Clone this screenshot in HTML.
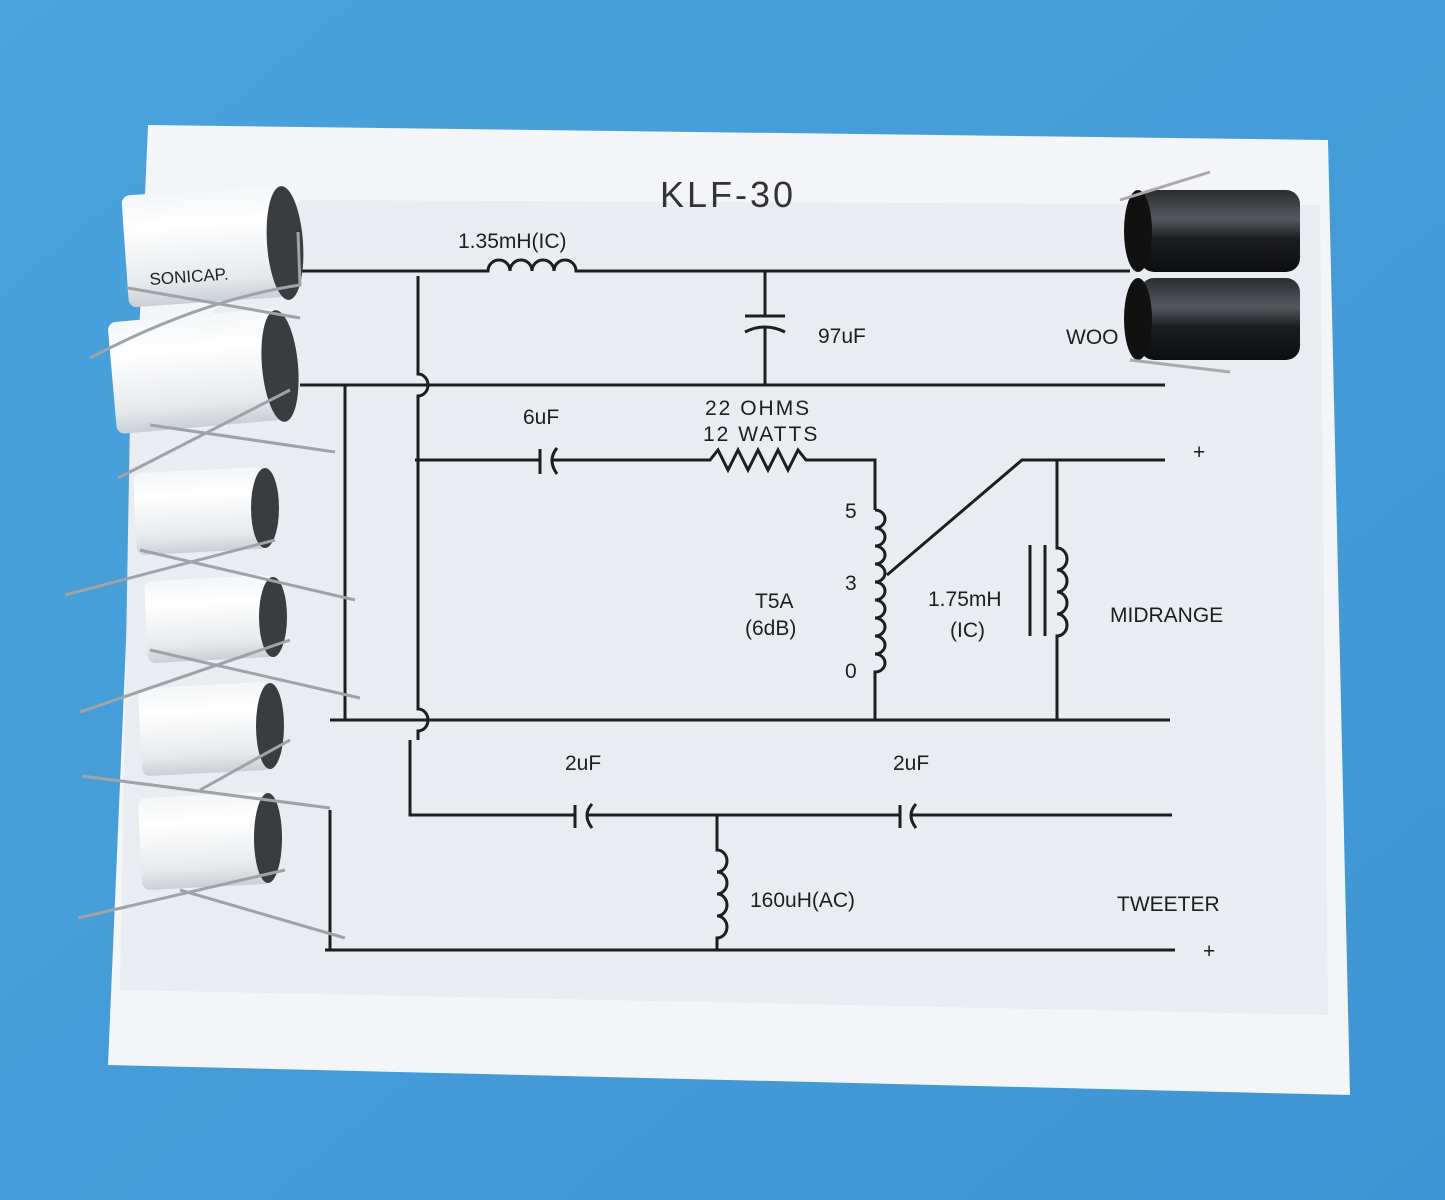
<!DOCTYPE html>
<html><head><meta charset="utf-8"><style>
html,body{margin:0;padding:0;width:1445px;height:1200px;overflow:hidden;background:#4a9fd9}
svg{display:block}
</style></head><body>
<svg width="1445" height="1200" viewBox="0 0 1445 1200" xmlns="http://www.w3.org/2000/svg">
<defs>
<linearGradient id="bg" x1="0" y1="0" x2="1" y2="1"><stop offset="0" stop-color="#4aa3dc"/><stop offset="1" stop-color="#3f95d3"/></linearGradient>
<linearGradient id="cyl" x1="0" y1="0" x2="0" y2="1"><stop offset="0" stop-color="#f4f6f8"/><stop offset="0.3" stop-color="#ffffff"/><stop offset="0.8" stop-color="#e6e9ec"/><stop offset="1" stop-color="#c9cfd4"/></linearGradient>
<linearGradient id="blk" x1="0" y1="0" x2="0" y2="1"><stop offset="0" stop-color="#2a2c30"/><stop offset="0.35" stop-color="#55595e"/><stop offset="0.6" stop-color="#1b1c1f"/><stop offset="1" stop-color="#0d0e10"/></linearGradient>
</defs>
<rect width="1445" height="1200" fill="url(#bg)"/>
<polygon points="148,125 1328,140 1350,1095 108,1065" fill="#f3f5f8"/>
<polygon points="300,200 1320,205 1328,1015 120,990 130,420" fill="#e9ecf1"/>
<text x="660" y="207" font-family="Liberation Sans,sans-serif" font-size="36" fill="#333" letter-spacing="3">KLF-30</text>
<g stroke="#1e1e1e" stroke-width="3" fill="none">
<!-- top wire -->
<path d="M300 271 H488 a11 11 0 0 1 22 0 a11 11 0 0 1 22 0 a11 11 0 0 1 22 0 a11 11 0 0 1 22 0 H1130"/>
<!-- cap vertical -->
<path d="M765 271 V315 M745 316 H785 M745 332 Q765 322 785 332 M765 327 V385"/>
<!-- second wire -->
<path d="M300 385 H1165"/>
<!-- x=415 vertical with hops -->
<path d="M418 276 V374 a10 11 0 0 1 0 22 V709 a10 11 0 0 1 0 22 V740"/>
<path d="M410 740 V815 H575 M575 805 V828 M592 804 Q582 815 592 828 M588 815 H900 M900 805 V828 M916 804 Q906 815 916 828 M912 815 H1172"/>
<!-- left verticals -->
<path d="M345 385 V720 M330 810 V950"/>
<!-- 6uF branch -->
<path d="M415 460 H540 M540 449 V474 M557 448 Q547 460 557 474 M553 460 H710 l8 -10 l10 20 l10 -20 l10 20 l10 -20 l10 20 l10 -20 l10 20 l10 -20 l8 10 H875 V510"/>
<!-- tapped inductor -->
<path d="M875 510 a10 9 0 0 1 0 18 a10 9 0 0 1 0 18 a10 9 0 0 1 0 18 a10 9 0 0 1 0 18 a10 9 0 0 1 0 18 a10 9 0 0 1 0 18 a10 9 0 0 1 0 18 a10 9 0 0 1 0 18 a10 9 0 0 1 0 18 V720"/>
<path d="M887 575 L1022 460 H1165 M1057 460 V548 a10 11 0 0 1 0 22 a10 11 0 0 1 0 22 a10 11 0 0 1 0 22 a10 11 0 0 1 0 22 V720"/>
<path d="M1030 545 V636 M1045 545 V636"/>
<path d="M330 720 H1170"/>
<!-- 160uH -->
<path d="M717 815 V850 a10 11 0 0 1 0 22 a10 11 0 0 1 0 22 a10 11 0 0 1 0 22 a10 11 0 0 1 0 22 V950"/>
<path d="M325 950 H1175"/>
</g>
<g font-family="Liberation Sans,sans-serif" font-size="21" fill="#1e1e1e">
<text x="458" y="248">1.35mH(IC)</text>
<text x="818" y="343">97uF</text>
<text x="1066" y="344">WOO</text>
<text x="523" y="424">6uF</text>
<text x="705" y="415" letter-spacing="2">22  OHMS</text>
<text x="703" y="441" letter-spacing="2">12  WATTS</text>
<text x="1193" y="459">+</text>
<text x="845" y="518">5</text>
<text x="845" y="590">3</text>
<text x="845" y="678">0</text>
<text x="755" y="608">T5A</text>
<text x="745" y="635">(6dB)</text>
<text x="928" y="606">1.75mH</text>
<text x="950" y="637">(IC)</text>
<text x="1110" y="622">MIDRANGE</text>
<text x="565" y="770">2uF</text>
<text x="893" y="770">2uF</text>
<text x="750" y="907">160uH(AC)</text>
<text x="1117" y="911">TWEETER</text>
<text x="1203" y="958">+</text>
</g>
<!-- black caps -->
<g>
<rect x="1140" y="190" width="160" height="82" rx="14" fill="url(#blk)"/>
<ellipse cx="1138" cy="231" rx="14" ry="41" fill="#111"/>
<rect x="1140" y="278" width="160" height="82" rx="14" fill="url(#blk)"/>
<ellipse cx="1138" cy="319" rx="14" ry="41" fill="#111"/>
<path d="M1120 200 L1210 172 M1130 360 L1230 372" stroke="#aaa" stroke-width="3" fill="none"/>
</g>
<!-- white caps -->
<g stroke="none">
<g><rect x="125" y="190" width="165" height="112" rx="8" fill="url(#cyl)" transform="rotate(-4 207 246)"/><ellipse cx="285" cy="243" rx="18" ry="57" fill="#3a3d40" transform="rotate(-4 285 243)"/>
<text x="150" y="285" font-family="Liberation Sans,sans-serif" font-size="17" fill="#222" transform="rotate(-4 150 285)">SONICAP.</text></g>
<g><rect x="112" y="315" width="170" height="112" rx="8" fill="url(#cyl)" transform="rotate(-5 197 371)"/><ellipse cx="280" cy="366" rx="18" ry="56" fill="#3a3d40" transform="rotate(-5 280 366)"/></g>
<g><rect x="135" y="470" width="130" height="82" rx="8" fill="url(#cyl)" transform="rotate(-3 200 511)"/><ellipse cx="265" cy="508" rx="14" ry="40" fill="#3a3d40"/></g>
<g><rect x="146" y="578" width="128" height="82" rx="8" fill="url(#cyl)" transform="rotate(-3 210 619)"/><ellipse cx="273" cy="617" rx="14" ry="40" fill="#3a3d40"/></g>
<g><rect x="140" y="685" width="130" height="88" rx="8" fill="url(#cyl)" transform="rotate(-3 205 729)"/><ellipse cx="270" cy="726" rx="14" ry="43" fill="#3a3d40"/></g>
<g><rect x="140" y="795" width="130" height="92" rx="8" fill="url(#cyl)" transform="rotate(-3 205 841)"/><ellipse cx="268" cy="838" rx="14" ry="45" fill="#3a3d40"/></g>
</g>
<g stroke="#9ea3a8" stroke-width="3" fill="none">
<path d="M90 358 Q200 300 300 285 L298 232 M128 288 L300 318"/>
<path d="M118 478 L290 390 M150 425 L335 452"/>
<path d="M65 595 L275 540 M140 550 L355 600"/>
<path d="M80 712 L290 640 M150 650 L360 698"/>
<path d="M82 776 L330 808 M200 790 L290 740"/>
<path d="M78 918 L285 870 M180 890 L345 938"/>
</g>
</svg>
</body></html>
